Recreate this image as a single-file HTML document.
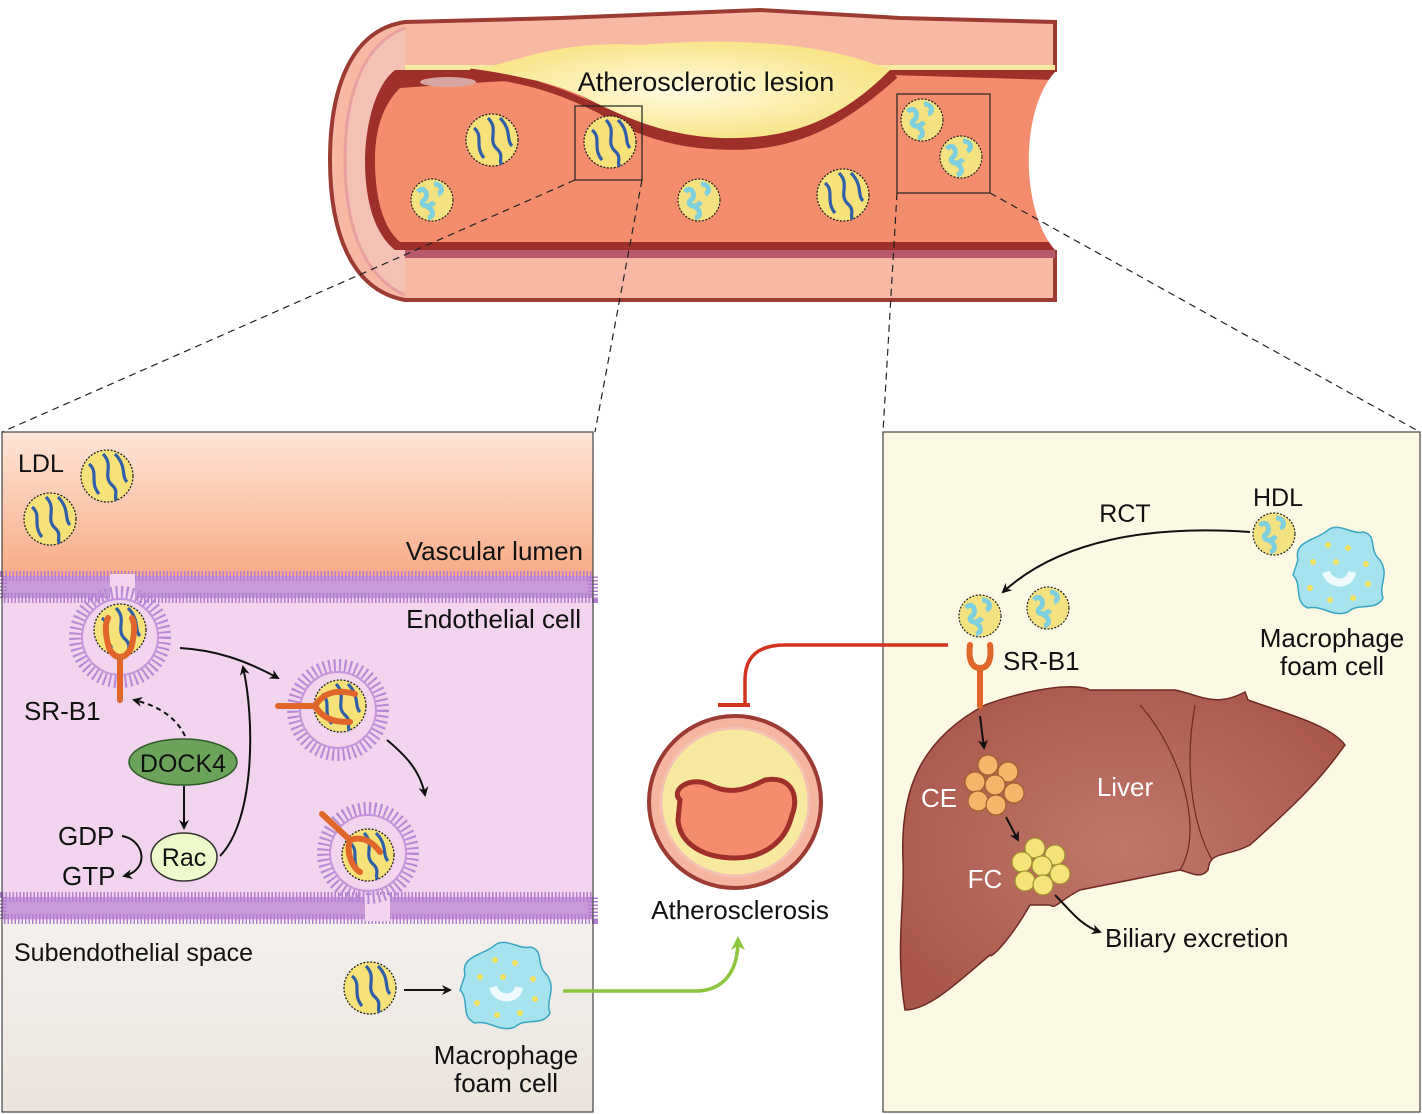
<!DOCTYPE html>
<html><head><meta charset="utf-8"><style>
html,body{margin:0;padding:0;background:#fff}
svg{display:block;font-family:"Liberation Sans",Arial,sans-serif}
</style></head><body>
<svg width="1422" height="1114" viewBox="0 0 1422 1114" xmlns="http://www.w3.org/2000/svg">
<defs>
<linearGradient id="lum" x1="0" y1="0" x2="0" y2="1"><stop offset="0" stop-color="#fde6d8"/><stop offset="1" stop-color="#f8ab86"/></linearGradient>
<linearGradient id="sub" x1="0" y1="0" x2="0" y2="1"><stop offset="0" stop-color="#f3f0ee"/><stop offset="1" stop-color="#ebe4dc"/></linearGradient>
<radialGradient id="liv" cx="0.5" cy="0.5" r="0.6"><stop offset="0" stop-color="#c0786a"/><stop offset="1" stop-color="#a9574b"/></radialGradient>
<radialGradient id="les" cx="0.5" cy="0.5" r="0.6"><stop offset="0" stop-color="#fffbe0"/><stop offset="1" stop-color="#f6e27a"/></radialGradient>
<g id="ldl"><circle r="26" fill="#f7e27a" stroke="#222" stroke-width="1.3" stroke-dasharray="2 1.5"/>
<path d="M-18,-12 C-8,-4 -18,6 -8,18 M-4,-22 C8,-10 -6,0 6,10 C12,16 6,22 10,24 M8,-22 C20,-10 14,0 20,6" fill="none" stroke="#2f5fa8" stroke-width="3.2"/></g>
<g id="hdl"><circle r="21" fill="#f3e27f" stroke="#222" stroke-width="1.2" stroke-dasharray="2 1.5"/>
<path d="M-14,-8 c6,-8 12,4 6,8 c-6,4 4,10 10,2 M-6,6 c6,2 10,10 2,12 M2,-16 c8,0 10,8 4,10" fill="none" stroke="#7fd0df" stroke-width="5"/></g>
<g id="ves"><circle r="40" fill="#f2d4ee"/><circle r="44" fill="none" stroke="#b78ad6" stroke-width="14" stroke-dasharray="2 3.2"/><circle r="38" fill="none" stroke="#c596db" stroke-width="2"/></g>
<g id="mac"><path d="M-40,-10 C-45,-30 -20,-30 -10,-40 C0,-48 15,-35 25,-38 C40,-35 30,-20 42,-10 C52,5 40,15 45,28 C38,42 20,32 10,42 C-5,48 -15,35 -30,38 C-45,32 -35,15 -45,5 Z" fill="#a6e3ef" stroke="#3aa6c4" stroke-width="1.5"/>
<path d="M-12,2 c4,14 24,14 26,0" fill="none" stroke="#eefafd" stroke-width="8"/>
<g fill="#f3e160"><circle cx="-25" cy="-8" r="3"/><circle cx="-10" cy="-25" r="3"/><circle cx="10" cy="-22" r="3"/><circle cx="28" cy="-6" r="3"/><circle cx="30" cy="14" r="3"/><circle cx="15" cy="28" r="3"/><circle cx="-8" cy="30" r="3"/><circle cx="-28" cy="18" r="3"/><circle cx="-2" cy="-8" r="3"/></g></g>
<marker id="ah" markerWidth="10" markerHeight="10" refX="8" refY="5" orient="auto" markerUnits="userSpaceOnUse"><path d="M0,0 L10,5 L0,10 L3,5Z" fill="#111"/></marker>
<marker id="ahg" markerWidth="14" markerHeight="14" refX="10" refY="7" orient="auto" markerUnits="userSpaceOnUse"><path d="M0,0 L14,7 L0,14 L4,7Z" fill="#8cc63f"/></marker>
</defs>

<!-- Vessel -->
<path d="M405,22 L560,18 L760,10 L900,18 L1055,22 L1055,300 L405,300 C350,290 330,230 330,160 C330,90 350,30 405,22Z" fill="#f7b9a4" stroke="#9c3b32" stroke-width="4"/>
<path d="M405,28 C360,45 345,100 345,160 C345,220 360,275 405,295" fill="#f3c2b4" stroke="#e8a0a0" stroke-width="3"/>
<path d="M405,65 L1055,65 L1055,258 L405,258 Z" fill="#f8e9a0"/>
<path d="M395,70 C370,90 365,140 365,160 C365,190 370,230 395,250 L1055,250 L1055,70 Z" fill="#9f2f2a"/>
<path d="M400,88 C378,110 375,140 375,160 C375,190 380,225 400,242 L1055,242 L1055,80 L890,75 C840,120 790,150 720,145 C660,140 620,120 580,95 C550,75 520,80 400,88Z" fill="#f48d6d"/>
<path d="M470,72 C520,60 560,40 640,45 C720,38 820,40 890,70 C840,120 790,140 720,138 C660,135 620,115 580,95 C540,78 510,75 470,72Z" fill="url(#les)"/>
<path d="M470,72 C530,80 560,90 600,110 C640,135 680,145 720,146 C790,150 840,125 895,75" fill="none" stroke="#9f2f2a" stroke-width="7"/>
<ellipse cx="448" cy="82" rx="28" ry="5" fill="#d8a6a2"/>
<rect x="405" y="250" width="650" height="8" fill="#b85a6a"/>
<path d="M1055,72 C1020,110 1020,210 1055,250 L1060,250 L1060,72Z" fill="#fff"/>
<use href="#ldl" x="492" y="140"/><use href="#ldl" x="610" y="142"/><use href="#ldl" x="843" y="195"/>
<use href="#hdl" x="432" y="200"/><use href="#hdl" x="699" y="200"/><use href="#hdl" x="922" y="120"/><use href="#hdl" x="961" y="157"/>
<text x="706" y="91" font-size="27" text-anchor="middle" fill="#111">Atherosclerotic lesion</text>
<rect x="575" y="106" width="67" height="74" fill="none" stroke="#222" stroke-width="1.2"/>
<rect x="897" y="94" width="93" height="99" fill="none" stroke="#222" stroke-width="1.2"/>
<g stroke="#222" stroke-width="1.2" stroke-dasharray="7 5" fill="none">
<path d="M575,180 L2,432"/><path d="M642,180 L595,432"/><path d="M897,193 L883,432"/><path d="M990,193 L1420,432"/></g>

<!-- Left panel -->
<rect x="2" y="432" width="591" height="145" fill="url(#lum)"/>
<rect x="2" y="577" width="591" height="345" fill="#f2d4ee"/>
<rect x="2" y="920" width="591" height="192" fill="url(#sub)"/>
<rect x="2" y="576" width="591" height="22" fill="#c99ad8"/>
<rect x="2" y="576" width="591" height="22" fill="none" stroke="#b27fd0" stroke-width="10" stroke-dasharray="1.5 2"/>
<rect x="2" y="897" width="591" height="22" fill="#c99ad8"/>
<rect x="2" y="897" width="591" height="22" fill="none" stroke="#b27fd0" stroke-width="10" stroke-dasharray="1.5 2"/>
<rect x="110" y="574" width="25" height="26" fill="#f2d4ee"/>
<rect x="365" y="895" width="25" height="26" fill="#f2d4ee"/>
<rect x="2" y="432" width="591" height="680" fill="none" stroke="#444" stroke-width="1.2"/>
<text x="18" y="472" font-size="25" fill="#111">LDL</text>
<use href="#ldl" x="107" y="476"/><use href="#ldl" x="50" y="519"/>
<text x="583" y="560" font-size="26" text-anchor="end" fill="#111">Vascular lumen</text>
<text x="581" y="628" font-size="26" text-anchor="end" fill="#111">Endothelial cell</text>
<use href="#ves" x="120" y="637"/><use href="#ldl" x="120" y="630"/>
<path d="M109,648 C104,630 106,622 108,618 M131,648 C136,630 134,622 132,618 M109,648 C115,660 125,660 131,648 M120,658 L120,700" fill="none" stroke="#e0662a" stroke-width="6" stroke-linecap="round"/>
<text x="24" y="720" font-size="26" fill="#111">SR-B1</text>
<use href="#ves" x="338" y="710"/><use href="#ldl" x="340" y="706"/>
<path d="M278,706 L315,706 C325,690 340,690 355,694 M315,706 C325,722 340,722 350,722" fill="none" stroke="#e0662a" stroke-width="6" stroke-linecap="round"/>
<use href="#ves" x="368" y="853"/><use href="#ldl" x="368" y="855"/>
<path d="M322,814 L350,840 C345,855 355,870 360,872 M350,840 C365,835 375,845 380,852" fill="none" stroke="#e0662a" stroke-width="6" stroke-linecap="round"/>
<path d="M180,648 C215,650 245,660 278,678" fill="none" stroke="#111" stroke-width="2" marker-end="url(#ah)"/>
<path d="M387,740 C405,755 420,770 425,795" fill="none" stroke="#111" stroke-width="2" marker-end="url(#ah)"/>
<path d="M185,736 C175,715 155,705 134,700" fill="none" stroke="#111" stroke-width="2" stroke-dasharray="5 4" marker-end="url(#ah)"/>
<ellipse cx="183" cy="762" rx="54" ry="23" fill="#6ba35a" stroke="#2d5a25" stroke-width="1.5"/>
<text x="183" y="772" font-size="25" text-anchor="middle" fill="#111">DOCK4</text>
<path d="M184,786 L184,828" stroke="#111" stroke-width="2" marker-end="url(#ah)"/>
<ellipse cx="184" cy="857" rx="33" ry="24" fill="#effacb" stroke="#333" stroke-width="1.5"/>
<text x="184" y="866" font-size="25" text-anchor="middle" fill="#111">Rac</text>
<path d="M220,856 C255,820 255,720 243,667" fill="none" stroke="#111" stroke-width="2" marker-end="url(#ah)"/>
<text x="58" y="845" font-size="26" fill="#111">GDP</text>
<text x="62" y="885" font-size="26" fill="#111">GTP</text>
<path d="M122,836 C145,840 150,870 124,876" fill="none" stroke="#111" stroke-width="2" marker-end="url(#ah)"/>
<text x="14" y="961" font-size="25" fill="#111">Subendothelial space</text>
<use href="#ldl" x="370" y="988"/>
<path d="M404,990 L450,990" stroke="#111" stroke-width="2" marker-end="url(#ah)"/>
<use href="#mac" x="505" y="985"/>
<text x="506" y="1064" font-size="26" text-anchor="middle" fill="#111">Macrophage</text>
<text x="506" y="1092" font-size="26" text-anchor="middle" fill="#111">foam cell</text>

<!-- right panel -->
<rect x="883" y="432" width="537" height="680" fill="#fbf8e3" stroke="#444" stroke-width="1.2"/>

<!-- middle -->
<path d="M563,991 L695,991 C725,991 738,970 738,940" fill="none" stroke="#8cc63f" stroke-width="3.5" marker-end="url(#ahg)"/>
<circle cx="735" cy="802" r="86" fill="#f6b5a0" stroke="#9c3b32" stroke-width="4"/>
<circle cx="735" cy="802" r="74" fill="#f8e9a0" stroke="#f3c2b4" stroke-width="3"/>
<path d="M680,800 C670,790 690,775 710,785 C730,795 745,790 765,780 C790,775 800,795 792,815 C785,845 760,858 735,858 C705,858 680,845 678,820 Z" fill="#f48d6d" stroke="#9f2f2a" stroke-width="5"/>
<text x="740" y="919" font-size="26" text-anchor="middle" fill="#111">Atherosclerosis</text>
<path d="M948,645 L785,645 C760,645 745,655 745,680 L745,703" fill="none" stroke="#d2321e" stroke-width="3.5"/>
<path d="M718,705 L750,705" stroke="#d2321e" stroke-width="4"/>

<text x="1125" y="522" font-size="25" text-anchor="middle" fill="#111">RCT</text>
<text x="1278" y="506" font-size="25" text-anchor="middle" fill="#111">HDL</text>
<use href="#hdl" x="1274" y="534"/>
<use href="#mac" x="1338" y="570"/>
<text x="1332" y="647" font-size="26" text-anchor="middle" fill="#111">Macrophage</text>
<text x="1332" y="675" font-size="26" text-anchor="middle" fill="#111">foam cell</text>
<path d="M1250,532 C1150,525 1060,540 1003,592" fill="none" stroke="#111" stroke-width="2" marker-end="url(#ah)"/>
<use href="#hdl" x="980" y="616"/><use href="#hdl" x="1048" y="608"/>
<path d="M905,1010 C895,950 905,900 903,860 C900,790 920,740 985,705 C1040,685 1080,684 1090,690 L1175,690 C1200,695 1215,708 1245,692 L1248,700 C1290,715 1330,725 1345,745 C1320,780 1300,800 1250,845 C1225,858 1210,850 1208,870 C1200,880 1190,872 1180,870 L1080,890 C1060,900 1055,910 1050,905 L1030,905 C1010,940 990,960 990,955 C960,980 930,1010 905,1010Z" fill="url(#liv)" stroke="#6e2a22" stroke-width="1.5"/>
<path d="M1180,870 C1205,830 1180,750 1140,705 M1195,705 C1185,760 1190,820 1212,860" fill="none" stroke="#6e2a22" stroke-width="1.2"/>
<path d="M970,645 C968,660 972,668 980,668 C988,668 992,660 990,645 M980,668 L980,706" fill="none" stroke="#e0662a" stroke-width="6" stroke-linecap="round"/>
<text x="1003" y="670" font-size="26" fill="#111">SR-B1</text>
<path d="M980,716 L984,748" stroke="#111" stroke-width="2" marker-end="url(#ah)"/>
<g fill="#f6b56b" stroke="#a0602a" stroke-width="1.2"><circle cx="988" cy="765" r="10"/><circle cx="1008" cy="772" r="10"/><circle cx="975" cy="782" r="10"/><circle cx="995" cy="785" r="10"/><circle cx="1014" cy="793" r="10"/><circle cx="978" cy="801" r="10"/><circle cx="996" cy="805" r="10"/></g>
<text x="939" y="807" font-size="26" text-anchor="middle" fill="#fff">CE</text>
<text x="1125" y="796" font-size="26" text-anchor="middle" fill="#fff">Liver</text>
<path d="M1006,817 L1018,840" stroke="#111" stroke-width="2" marker-end="url(#ah)"/>
<g fill="#f5e47a" stroke="#a09030" stroke-width="1.2"><circle cx="1035" cy="848" r="10"/><circle cx="1055" cy="855" r="10"/><circle cx="1022" cy="862" r="10"/><circle cx="1042" cy="866" r="10"/><circle cx="1060" cy="874" r="10"/><circle cx="1025" cy="881" r="10"/><circle cx="1043" cy="885" r="10"/></g>
<text x="985" y="888" font-size="26" text-anchor="middle" fill="#fff">FC</text>
<path d="M1055,895 C1070,910 1080,925 1100,932" fill="none" stroke="#111" stroke-width="2" marker-end="url(#ah)"/>
<text x="1105" y="947" font-size="26" fill="#111">Biliary excretion</text>
</svg>
</body></html>
